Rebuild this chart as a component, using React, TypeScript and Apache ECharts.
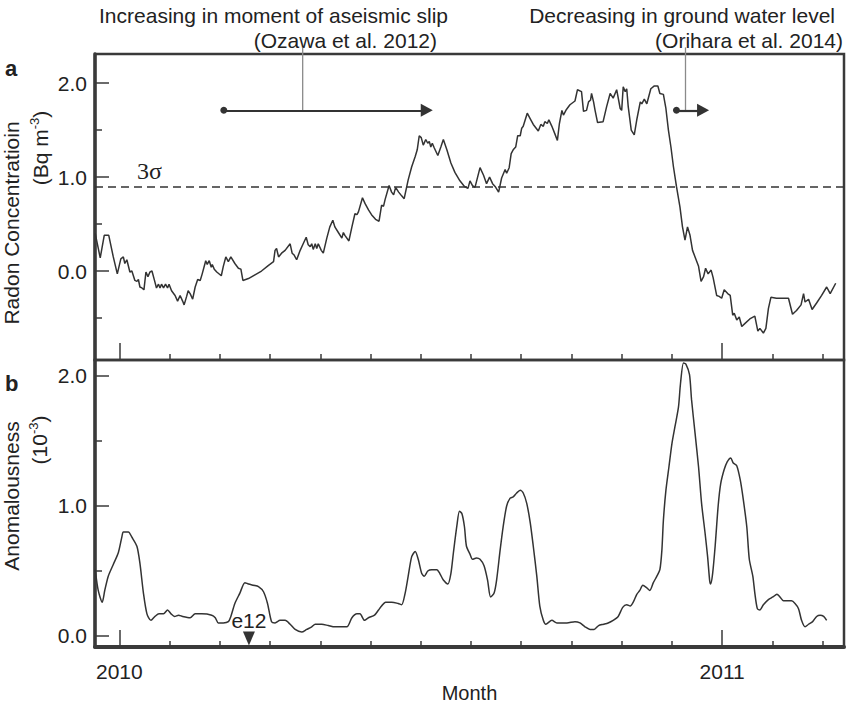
import React, { useEffect, useRef } from 'react';
import * as echarts from 'echarts';

// x values are months counted from January 2010 (0 = Jan 2010, 12 = Jan 2011)
const radonMonths = [
  -0.48, -0.38, -0.30, -0.21, -0.12, -0.04, 0.03, 0.08, 0.11, 0.15, 0.21, 0.25, 0.31, 0.35, 0.38, 0.41, 0.45, 0.49, 0.53, 0.57,
  0.61, 0.65, 0.70, 0.74, 0.78, 0.81, 0.84, 0.88, 0.92, 0.96, 0.99, 1.04, 1.11, 1.16, 1.21, 1.26, 1.29, 1.34, 1.37, 1.41,
  1.46, 1.51, 1.56, 1.61, 1.65, 1.72, 1.75, 1.79, 1.83, 1.85, 1.89, 1.94, 2.03, 2.07, 2.12, 2.17, 2.22, 2.30, 2.37, 2.42,
  2.46, 2.57, 2.70, 2.83, 2.97, 3.07, 3.10, 3.13, 3.17, 3.23, 3.30, 3.40, 3.44, 3.48, 3.53, 3.60, 3.66, 3.72, 3.76, 3.80,
  3.83, 3.86, 3.90, 3.93, 3.96, 4.02, 4.06, 4.13, 4.19, 4.25, 4.29, 4.36, 4.43, 4.46,
  4.49, 4.57, 4.63, 4.69, 4.73, 4.76, 4.84, 4.89, 4.96, 5.02, 5.10, 5.17, 5.22, 5.26, 5.29, 5.37, 5.42, 5.46, 5.50, 5.56,
  5.62, 5.67, 5.75, 5.82, 5.89, 5.93, 5.97, 6.01, 6.05, 6.10, 6.14, 6.17, 6.20, 6.23, 6.27, 6.34, 6.40, 6.45, 6.52, 6.60,
  6.68, 6.78, 6.87, 6.94, 6.98, 7.03, 7.08, 7.18, 7.25, 7.31, 7.37, 7.43, 7.48, 7.55, 7.61, 7.68, 7.71, 7.76, 7.80, 7.84,
  7.89, 7.93, 7.98, 8.01, 8.04, 8.12, 8.18, 8.24, 8.34, 8.39, 8.44, 8.47, 8.52, 8.55, 8.61, 8.67, 8.72, 8.76, 8.81, 8.84,
  8.90, 8.97, 9.07, 9.12, 9.20, 9.24, 9.30, 9.34, 9.38, 9.40, 9.44, 9.47,
  9.52, 9.63, 9.70, 9.77, 9.83, 9.90, 9.97, 10.00, 10.03, 10.07, 10.10, 10.13, 10.19, 10.25, 10.30, 10.37, 10.40, 10.45,
  10.50, 10.54, 10.58, 10.65, 10.72, 10.76, 10.83, 10.88, 10.93, 10.98, 11.03, 11.09, 11.16, 11.21, 11.26, 11.31, 11.36,
  11.41, 11.46, 11.53, 11.58, 11.63, 11.67, 11.72, 11.78, 11.82, 11.89, 11.94, 11.99, 12.04, 12.11, 12.16, 12.21, 12.24,
  12.29, 12.34, 12.39, 12.45, 12.55, 12.65, 12.71, 12.75, 12.82, 12.87, 12.92, 12.97, 13.08, 13.32, 13.40, 13.48, 13.57,
  13.62, 13.65, 13.72, 13.79, 13.88, 13.98, 14.08, 14.15, 14.26,
];
const radonValues = [
  0.40, 0.14, 0.38, 0.38, 0.15, -0.03, 0.13, 0.15, 0.08, 0.12, -0.01, 0.00, -0.10, -0.11, -0.09, -0.17, -0.18, -0.20, -0.01, -0.06,
  -0.01, 0.00, -0.10, -0.18, -0.14, -0.18, -0.14, -0.18, -0.14, -0.18, -0.14, -0.21, -0.26, -0.32, -0.26, -0.32, -0.36, -0.27, -0.21, -0.24,
  -0.30, -0.17, -0.09, -0.10, -0.03, 0.11, 0.07, 0.11, 0.04, 0.07, 0.02, -0.01, -0.05, 0.05, 0.15, 0.10, 0.15, 0.08, 0.03, 0.02,
  -0.10, -0.08, -0.04, 0.00, 0.06, 0.10, 0.22, 0.24, 0.15, 0.19, 0.22, 0.29, 0.19, 0.17, 0.12, 0.22, 0.29, 0.36, 0.28, 0.26,
  0.29, 0.23, 0.29, 0.24, 0.29, 0.22, 0.19, 0.35, 0.47, 0.54, 0.47, 0.41, 0.35, 0.41,
  0.38, 0.32, 0.47, 0.61, 0.60, 0.63, 0.78, 0.72, 0.65, 0.60, 0.55, 0.53, 0.70, 0.69, 0.76, 0.91, 0.84, 0.81, 0.89, 0.84,
  0.80, 0.77, 0.97, 1.11, 1.22, 1.29, 1.44, 1.42, 1.34, 1.40, 1.36, 1.38, 1.32, 1.36, 1.31, 1.23, 1.32, 1.40, 1.29, 1.15,
  1.05, 0.96, 0.90, 0.88, 0.96, 0.91, 0.89, 1.10, 1.02, 0.93, 1.00, 0.93, 0.90, 0.84, 0.99, 1.08, 1.04, 1.10, 1.25, 1.29,
  1.32, 1.44, 1.44, 1.52, 1.54, 1.68, 1.62, 1.56, 1.49, 1.56, 1.54, 1.59, 1.57, 1.61, 1.54, 1.46, 1.39, 1.57, 1.71, 1.66,
  1.72, 1.77, 1.81, 1.93, 1.91, 1.70, 1.71, 1.80, 1.82, 1.89, 1.80, 1.71,
  1.58, 1.59, 1.75, 1.89, 1.84, 1.93, 1.73, 1.71, 1.96, 1.91, 1.94, 1.75, 1.50, 1.45, 1.61, 1.80, 1.78, 1.83,
  1.78, 1.86, 1.94, 1.97, 1.97, 1.89, 1.88, 1.73, 1.50, 1.32, 1.11, 0.90, 0.68, 0.47, 0.33, 0.47, 0.38,
  0.22, 0.15, 0.05, -0.11, -0.06, 0.03, -0.03, 0.01, -0.07, -0.26, -0.27, -0.29, -0.20, -0.24, -0.26, -0.47, -0.45,
  -0.52, -0.49, -0.59, -0.56, -0.51, -0.48, -0.64, -0.61, -0.66, -0.61, -0.40, -0.28, -0.29, -0.29, -0.46, -0.42, -0.36,
  -0.24, -0.33, -0.30, -0.41, -0.34, -0.26, -0.17, -0.24, -0.13,
];

const anomalyMonths = [
  -0.48, -0.42, -0.34, -0.29, -0.22, -0.12, -0.02, 0.05, 0.08, 0.18, 0.25, 0.35, 0.41, 0.48, 0.55, 0.63, 0.71, 0.79, 0.88, 0.96,
  1.03, 1.10, 1.18, 1.26, 1.41, 1.51, 1.64, 1.84, 1.91, 1.97, 2.07, 2.17, 2.22, 2.30, 2.40, 2.50, 2.57, 2.67, 2.77, 2.87,
  2.95, 3.03, 3.10, 3.20, 3.30, 3.40, 3.50, 3.63, 3.73, 3.83, 3.90, 4.03, 4.16, 4.29, 4.39, 4.53, 4.63, 4.73, 4.79, 4.88,
  4.96, 5.08, 5.16, 5.22, 5.30, 5.42, 5.55, 5.62, 5.69, 5.75, 5.82, 5.89, 5.95, 6.02, 6.07, 6.14, 6.22, 6.32, 6.38, 6.45,
  6.54, 6.60, 6.65, 6.72, 6.77, 6.82, 6.87, 6.91, 6.98,
  7.03, 7.11, 7.18, 7.26, 7.33, 7.39, 7.46, 7.51, 7.58, 7.64, 7.71, 7.78, 7.84, 7.91, 7.98, 8.04, 8.11, 8.18, 8.24, 8.31,
  8.37, 8.44, 8.49, 8.61, 8.71, 8.91, 9.07, 9.17, 9.27, 9.37, 9.45, 9.54, 9.64, 9.73, 9.83, 9.93, 10.02, 10.10, 10.17, 10.23,
  10.30, 10.36, 10.42, 10.50, 10.56, 10.63, 10.70, 10.76, 10.80, 10.83, 10.88, 10.94, 11.00, 11.06, 11.13, 11.17, 11.23, 11.28,
  11.35, 11.39, 11.46, 11.53, 11.59, 11.66, 11.71, 11.75, 11.77, 11.81, 11.86, 11.92, 11.97, 12.04, 12.10, 12.17, 12.22, 12.29,
  12.36, 12.42, 12.49, 12.54, 12.61, 12.65, 12.70, 12.75, 12.82, 12.92, 13.01, 13.09, 13.15, 13.22, 13.29, 13.38, 13.45, 13.52,
  13.58, 13.65, 13.72, 13.80, 13.88, 13.95, 14.02, 14.08,
];
const anomalyValues = [
  0.51, 0.35, 0.26, 0.35, 0.46, 0.55, 0.64, 0.76, 0.80, 0.80, 0.76, 0.69, 0.56, 0.33, 0.17, 0.12, 0.15, 0.17, 0.17, 0.20,
  0.17, 0.15, 0.16, 0.15, 0.14, 0.17, 0.17, 0.16, 0.14, 0.10, 0.10, 0.11, 0.15, 0.25, 0.33, 0.41, 0.40, 0.39, 0.38, 0.34,
  0.25, 0.11, 0.10, 0.12, 0.12, 0.09, 0.05, 0.03, 0.05, 0.07, 0.09, 0.09, 0.08, 0.07, 0.07, 0.07, 0.14, 0.17, 0.17, 0.12,
  0.14, 0.16, 0.20, 0.23, 0.26, 0.26, 0.25, 0.24, 0.33, 0.46, 0.61, 0.65, 0.59, 0.48, 0.46, 0.50, 0.51, 0.51, 0.48, 0.43,
  0.40, 0.48, 0.64, 0.85, 0.96, 0.94, 0.84, 0.69, 0.63,
  0.59, 0.60, 0.59, 0.54, 0.43, 0.30, 0.33, 0.43, 0.66, 0.84, 1.00, 1.06, 1.07, 1.10, 1.12, 1.10, 1.02, 0.87, 0.69, 0.46,
  0.23, 0.12, 0.09, 0.12, 0.10, 0.10, 0.11, 0.10, 0.07, 0.05, 0.05, 0.08, 0.09, 0.10, 0.12, 0.15, 0.22, 0.24, 0.23, 0.26,
  0.32, 0.35, 0.39, 0.37, 0.35, 0.41, 0.46, 0.51, 0.66, 0.89, 1.12, 1.30, 1.48, 1.61, 1.76, 1.94, 2.10, 2.09,
  2.01, 1.82, 1.56, 1.30, 1.02, 0.79, 0.61, 0.43, 0.40, 0.48, 0.69, 1.00, 1.17, 1.28, 1.34, 1.37, 1.33, 1.31,
  1.20, 1.05, 0.84, 0.59, 0.46, 0.33, 0.21, 0.20, 0.24, 0.28, 0.30, 0.32, 0.30, 0.27, 0.27, 0.27, 0.25, 0.21,
  0.12, 0.07, 0.09, 0.11, 0.15, 0.16, 0.15, 0.12,
];

const monthTicks = [1, 2, 3, 4, 5, 6, 7, 8, 9, 10, 11, 13, 14];
const yearTicks = [0, 12];
const yearLabels = ['2010', '2011'];
const radonMajorTicks = [0, 1, 2];
const radonMinorTicks = [-0.5, 0.5, 1.5];
const anomalyMajorTicks = [0, 1, 2];
const anomalyMinorTicks = [0.5, 1.5];
const sigmaLevel = [0.9];
const sigmaLabel = ['3σ'];

const eventMonths = [2.58];
const eventValues = [-0.02];
const eventLabels = ['e12'];

// annotation arrows (months) and their level (Bq m-3)
const slipArrowMonths = [2.08, 6.12];
const slipStemMonth = [3.65];
const waterArrowMonths = [11.09, 11.62];
const waterStemMonth = [11.27];
const arrowLevel = [1.71];
const stemTop = [2.38];

const slipText = ['Increasing in moment of aseismic slip', '(Ozawa et al. 2012)'];
const waterText = ['Decreasing in ground water level', '(Orihara et al. 2014)'];

const X_MIN = -0.484;
const X_MAX = 14.425;
const RADON_MIN = -0.947;
const RADON_MAX = 2.31;
const ANOM_MIN = -0.085;
const ANOM_MAX = 2.123;

const FONT = '"Liberation Sans", Arial, Helvetica, sans-serif';
const INK = '#333333';
const TEXT = '#222222';
const FRAME = '#3a3a3a';

export default function App() {
  const ref = useRef<HTMLDivElement>(null);

  useEffect(() => {
    document.body.style.margin = '0';
    if (!ref.current) return;
    const chart = echarts.init(ref.current, undefined, { renderer: 'svg' });

    const gridW = 847 - 95 - 3;
    const topH = 306;
    const botH = 287;

    const xBase = (gridIndex: number) => ({
      type: 'value',
      gridIndex,
      min: X_MIN,
      max: X_MAX,
      splitLine: { show: false },
      axisLabel: { show: false },
      axisLine: { show: false, onZero: false },
    });
    const yBase = (gridIndex: number, min: number, max: number) => ({
      type: 'value',
      gridIndex,
      min,
      max,
      splitLine: { show: false },
      axisLabel: { show: false },
      axisLine: { show: false, onZero: false },
    });

    const tickStyle = { color: FRAME, width: 1.5 };
    const textStyle = (align: string) => ({
      fill: TEXT,
      align,
      verticalAlign: 'middle',
      textAlign: align,
      textVerticalAlign: 'middle',
    });

    const option: any = {
      animation: false,
      backgroundColor: '#ffffff',
      grid: [
        {
          left: 95, right: 3, top: 54, height: topH, show: true, borderColor: FRAME, borderWidth: 2.5,
          backgroundColor: 'transparent', containLabel: false, outerBoundsMode: 'none',
        },
        {
          left: 95, right: 3, top: 360, height: botH, show: true, borderColor: FRAME, borderWidth: 2.5,
          backgroundColor: 'transparent', containLabel: false, outerBoundsMode: 'none',
        },
      ],
      xAxis: [
        {
          ...xBase(0),
          position: 'bottom',
          axisTick: { show: true, inside: true, length: 6, customValues: monthTicks, lineStyle: tickStyle },
        },
        {
          ...xBase(0),
          position: 'top',
          offset: -topH,
          axisTick: { show: true, inside: false, length: 17, customValues: yearTicks, lineStyle: tickStyle },
        },
        {
          ...xBase(1),
          position: 'bottom',
          axisLine: { show: true, onZero: false, lineStyle: { color: FRAME, width: 4 } },
          axisTick: { show: true, inside: true, length: 17, customValues: yearTicks, lineStyle: tickStyle },
          axisLabel: {
            show: true,
            customValues: yearTicks,
            formatter: (v: number) => yearLabels[yearTicks.indexOf(Math.round(v))] ?? '',
            margin: 14,
            fontSize: 21,
            fontFamily: FONT,
            color: TEXT,
          },
          name: 'Month',
          nameLocation: 'middle',
          nameGap: 36,
          nameTextStyle: { fontSize: 20, lineHeight: 20, fontFamily: FONT, color: TEXT },
        },
        {
          ...xBase(1),
          position: 'top',
          offset: -botH,
          axisTick: { show: true, inside: false, length: 6, customValues: monthTicks, lineStyle: tickStyle },
        },
      ],
      yAxis: [
        {
          ...yBase(0, RADON_MIN, RADON_MAX),
          position: 'left',
          axisLine: { show: true, onZero: false, lineStyle: { color: FRAME, width: 3.5 } },
          axisTick: { show: true, inside: true, length: 14, customValues: radonMajorTicks, lineStyle: tickStyle },
          axisLabel: {
            show: true,
            customValues: radonMajorTicks,
            formatter: (v: number) => v.toFixed(1),
            margin: 8,
            fontSize: 21,
            fontFamily: FONT,
            color: TEXT,
          },
        },
        {
          ...yBase(0, RADON_MIN, RADON_MAX),
          position: 'right',
          offset: -gridW,
          axisTick: { show: true, inside: false, length: 7, customValues: radonMinorTicks, lineStyle: tickStyle },
        },
        {
          ...yBase(1, ANOM_MIN, ANOM_MAX),
          position: 'left',
          axisLine: { show: true, onZero: false, lineStyle: { color: FRAME, width: 3.5 } },
          axisTick: { show: true, inside: true, length: 14, customValues: anomalyMajorTicks, lineStyle: tickStyle },
          axisLabel: {
            show: true,
            customValues: anomalyMajorTicks,
            formatter: (v: number) => v.toFixed(1),
            margin: 8,
            fontSize: 21,
            fontFamily: FONT,
            color: TEXT,
          },
        },
        {
          ...yBase(1, ANOM_MIN, ANOM_MAX),
          position: 'right',
          offset: -gridW,
          axisTick: { show: true, inside: false, length: 7, customValues: anomalyMinorTicks, lineStyle: tickStyle },
        },
      ],
      series: [
        {
          name: 'Radon',
          type: 'line',
          xAxisIndex: 0,
          yAxisIndex: 0,
          data: radonMonths.map((m, i) => [m, radonValues[i]]),
          showSymbol: false,
          symbol: 'none',
          lineStyle: { color: INK, width: 1.5 },
          silent: true,
          markLine: {
            silent: true,
            animation: false,
            symbol: ['none', 'none'],
            label: { show: false },
            data: [
              {
                yAxis: sigmaLevel[0],
                symbol: 'none',
                lineStyle: { type: [8, 5], color: INK, width: 1.5 },
              },
              [
                { coord: [slipArrowMonths[0], arrowLevel[0]], symbol: 'circle', symbolSize: 7, lineStyle: { type: 'solid', color: INK, width: 2.2 } },
                { coord: [slipArrowMonths[1], arrowLevel[0]], symbol: 'triangle', symbolSize: [13, 12] },
              ],
              [
                { coord: [waterArrowMonths[0], arrowLevel[0]], symbol: 'circle', symbolSize: 7, lineStyle: { type: 'solid', color: INK, width: 2.2 } },
                { coord: [waterArrowMonths[1], arrowLevel[0]], symbol: 'triangle', symbolSize: [13, 12] },
              ],
            ],
          },
        },
        {
          name: 'slip stem',
          type: 'line',
          xAxisIndex: 0,
          yAxisIndex: 0,
          clip: false,
          silent: true,
          symbol: 'none',
          data: [[slipStemMonth[0], stemTop[0]], [slipStemMonth[0], arrowLevel[0]]],
          lineStyle: { color: '#8a8a8a', width: 1.3 },
          z: 1,
        },
        {
          name: 'water stem',
          type: 'line',
          xAxisIndex: 0,
          yAxisIndex: 0,
          clip: false,
          silent: true,
          symbol: 'none',
          data: [[waterStemMonth[0], stemTop[0]], [waterStemMonth[0], arrowLevel[0]]],
          lineStyle: { color: '#8a8a8a', width: 1.3 },
          z: 1,
        },
        {
          name: 'Anomalousness',
          type: 'line',
          xAxisIndex: 2,
          yAxisIndex: 2,
          data: anomalyMonths.map((m, i) => [m, anomalyValues[i]]),
          showSymbol: false,
          symbol: 'none',
          smooth: 0.25,
          lineStyle: { color: INK, width: 1.5 },
          silent: true,
        },
        {
          name: 'events',
          type: 'scatter',
          xAxisIndex: 2,
          yAxisIndex: 2,
          clip: false,
          silent: true,
          data: eventMonths.map((m, i) => [m, eventValues[i]]),
          symbol: 'triangle',
          symbolRotate: 180,
          symbolSize: [12, 14],
          itemStyle: { color: INK, opacity: 1 },
          label: {
            show: true,
            position: 'top',
            distance: 1,
            formatter: (p: any) => eventLabels[p.dataIndex],
            fontSize: 21,
            fontFamily: FONT,
            color: TEXT,
            opacity: 1,
          },
          z: 5,
        },
      ],
      graphic: [
        { type: 'text', x: 448, y: 15, style: { text: slipText[0], font: `21px ${FONT}`, ...textStyle('right') } },
        { type: 'text', x: 437, y: 40, style: { text: slipText[1], font: `21px ${FONT}`, ...textStyle('right') } },
        { type: 'text', x: 835, y: 15, style: { text: waterText[0], font: `21px ${FONT}`, ...textStyle('right') } },
        { type: 'text', x: 843, y: 40, style: { text: waterText[1], font: `21px ${FONT}`, ...textStyle('right') } },
        { type: 'text', x: 5, y: 68, style: { text: 'a', font: `bold 22px ${FONT}`, ...textStyle('left') } },
        { type: 'text', x: 5, y: 383, style: { text: 'b', font: `bold 22px ${FONT}`, ...textStyle('left') } },
        {
          type: 'text', x: 137, y: 171,
          style: { text: sigmaLabel[0], font: `24px "Liberation Serif", "Times New Roman", serif`, ...textStyle('left') },
        },
        {
          type: 'text', x: 11, y: 223, rotation: Math.PI / 2,
          style: { text: 'Radon Concentratioin', font: `21px ${FONT}`, ...textStyle('center') },
        },
        {
          type: 'text', x: 40, y: 148, rotation: Math.PI / 2,
          style: {
            text: '{a|(Bq m}{s|-3}{a|)}',
            ...textStyle('center'),
            rich: {
              a: { fontSize: 21, fontFamily: FONT, color: TEXT, lineHeight: 24 },
              s: { fontSize: 13, fontFamily: FONT, color: TEXT, verticalAlign: 'top', lineHeight: 24 },
            },
          },
        },
        {
          type: 'text', x: 11, y: 496, rotation: Math.PI / 2,
          style: { text: 'Anomalousness', font: `21px ${FONT}`, ...textStyle('center') },
        },
        {
          type: 'text', x: 39, y: 440, rotation: Math.PI / 2,
          style: {
            text: '{a|(10}{s|-3}{a|)}',
            ...textStyle('center'),
            rich: {
              a: { fontSize: 21, fontFamily: FONT, color: TEXT, lineHeight: 24 },
              s: { fontSize: 13, fontFamily: FONT, color: TEXT, verticalAlign: 'top', lineHeight: 24 },
            },
          },
        },
      ],
    };

    chart.setOption(option);
    return () => chart.dispose();
  }, []);

  return <div ref={ref} style={{ width: 847, height: 704 }} />;
}
